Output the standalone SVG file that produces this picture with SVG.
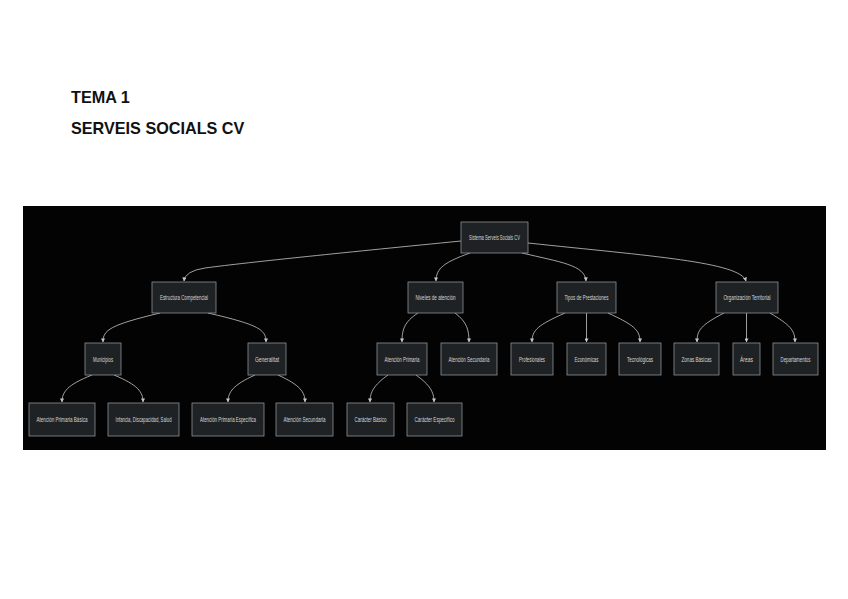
<svg xmlns="http://www.w3.org/2000/svg" width="848" height="599" viewBox="0 0 848 599">
<style>
.title{font-family:"Liberation Sans",Arial,sans-serif;font-weight:bold;font-size:16.2px;fill:#111}
.node rect{fill:#1f2224;stroke:#8d9296;stroke-width:0.8}
.node text{font-family:"Liberation Sans",Arial,sans-serif;font-size:7px;fill:#d6d6d6;text-anchor:middle;dominant-baseline:central}
.edge{fill:none;stroke:#c8c8c8;stroke-width:0.8;marker-end:url(#arr)}
</style>
<defs>
<marker id="arr" viewBox="0 0 10 10" refX="9" refY="5" markerWidth="4" markerHeight="4" orient="auto" markerUnits="userSpaceOnUse">
<path d="M0,0 L10,5 L0,10 z" fill="#c8c8c8"/>
</marker>
</defs>
<rect width="848" height="599" fill="#ffffff"/>
<text class="title" x="71" y="103">TEMA 1</text>
<text class="title" x="71" y="134">SERVEIS SOCIALS CV</text>
<rect x="23" y="206" width="803" height="244" fill="#030303"/>
<g id="connectors">
<path class="edge" d="M461,241 C350,252 250,262 205,268 Q185,271 184,281"/>
<path class="edge" d="M470,253 C445,262 436,268 436,281"/>
<path class="edge" d="M522,253 C560,262 585,265 586,281"/>
<path class="edge" d="M528,243 C650,256 740,262 746,281"/>
<path class="edge" d="M160,313 C110,325 103,330 103,342"/>
<path class="edge" d="M208,313 C260,325 266,330 266,342"/>
<path class="edge" d="M418,313 C404,322 402,330 402,342"/>
<path class="edge" d="M455,313 C467,322 469,330 469,342"/>
<path class="edge" d="M565,313 C538,325 532,330 532,342"/>
<path class="edge" d="M586.5,313 L586.5,342"/>
<path class="edge" d="M608,313 C634,325 640,330 640,342"/>
<path class="edge" d="M724,313 C701,325 697,330 697,342"/>
<path class="edge" d="M746.5,313 L746.5,342"/>
<path class="edge" d="M770,313 C790,325 795,330 795,342"/>
<path class="edge" d="M92,375 C67,385 62,392 62,402"/>
<path class="edge" d="M114,375 C138,385 143,392 143,402"/>
<path class="edge" d="M255,375 C233,385 228,392 228,402"/>
<path class="edge" d="M278,375 C300,385 305,392 305,402"/>
<path class="edge" d="M388,375 C374,385 370,392 370,402"/>
<path class="edge" d="M416,375 C430,385 434,392 434,402"/>
</g>
<g id="root" class="node"><rect x="461" y="222" width="67" height="31"/><text x="494.5" y="237.5" textLength="51" lengthAdjust="spacingAndGlyphs">Sistema Serveis Socials CV</text></g>
<g id="estructura" class="node"><rect x="152" y="282" width="64" height="31"/><text x="184" y="297.5" textLength="48" lengthAdjust="spacingAndGlyphs">Estructura Competencial</text></g>
<g id="niveles" class="node"><rect x="408" y="282" width="55" height="31"/><text x="435.5" y="297.5" textLength="40" lengthAdjust="spacingAndGlyphs">Niveles de atención</text></g>
<g id="tipos" class="node"><rect x="557" y="282" width="59" height="31"/><text x="586.5" y="297.5" textLength="44" lengthAdjust="spacingAndGlyphs">Tipos de Prestaciones</text></g>
<g id="organizacion" class="node"><rect x="716" y="282" width="62" height="31"/><text x="747" y="297.5" textLength="47" lengthAdjust="spacingAndGlyphs">Organización Territorial</text></g>
<g id="municipios" class="node"><rect x="85" y="343" width="36" height="32"/><text x="103" y="359" textLength="20" lengthAdjust="spacingAndGlyphs">Municipios</text></g>
<g id="generalitat" class="node"><rect x="248" y="343" width="38" height="32"/><text x="267" y="359" textLength="24" lengthAdjust="spacingAndGlyphs">Generalitat</text></g>
<g id="at-primaria" class="node"><rect x="377" y="343" width="50" height="32"/><text x="402" y="359" textLength="35" lengthAdjust="spacingAndGlyphs">Atención Primaria</text></g>
<g id="at-secundaria" class="node"><rect x="441" y="343" width="56" height="32"/><text x="469" y="359" textLength="41" lengthAdjust="spacingAndGlyphs">Atención Secundaria</text></g>
<g id="profesionales" class="node"><rect x="511" y="343" width="42" height="32"/><text x="532" y="359" textLength="26" lengthAdjust="spacingAndGlyphs">Profesionales</text></g>
<g id="economicas" class="node"><rect x="567" y="343" width="39" height="32"/><text x="586.5" y="359" textLength="24" lengthAdjust="spacingAndGlyphs">Económicas</text></g>
<g id="tecnologicas" class="node"><rect x="619" y="343" width="42" height="32"/><text x="640" y="359" textLength="26" lengthAdjust="spacingAndGlyphs">Tecnológicas</text></g>
<g id="zonas" class="node"><rect x="674" y="343" width="45" height="32"/><text x="696.5" y="359" textLength="30" lengthAdjust="spacingAndGlyphs">Zonas Básicas</text></g>
<g id="areas" class="node"><rect x="733" y="343" width="27" height="32"/><text x="746.5" y="359" textLength="13" lengthAdjust="spacingAndGlyphs">Áreas</text></g>
<g id="departamentos" class="node"><rect x="773" y="343" width="45" height="32"/><text x="795.5" y="359" textLength="30" lengthAdjust="spacingAndGlyphs">Departamentos</text></g>
<g id="ap-basica" class="node"><rect x="29" y="403" width="66" height="33"/><text x="62" y="419.5" textLength="51" lengthAdjust="spacingAndGlyphs">Atención Primaria Básica</text></g>
<g id="infancia" class="node"><rect x="108" y="403" width="71" height="33"/><text x="143.5" y="419.5" textLength="56" lengthAdjust="spacingAndGlyphs">Infancia, Discapacidad, Salud</text></g>
<g id="ap-especifica" class="node"><rect x="192" y="403" width="72" height="33"/><text x="228" y="419.5" textLength="56" lengthAdjust="spacingAndGlyphs">Atención Primaria Específica</text></g>
<g id="as-leaf" class="node"><rect x="276" y="403" width="57" height="33"/><text x="304.5" y="419.5" textLength="42" lengthAdjust="spacingAndGlyphs">Atención Secundaria</text></g>
<g id="caracter-basico" class="node"><rect x="347" y="403" width="47" height="33"/><text x="370.5" y="419.5" textLength="32" lengthAdjust="spacingAndGlyphs">Carácter Básico</text></g>
<g id="caracter-especifico" class="node"><rect x="407" y="403" width="55" height="33"/><text x="434.5" y="419.5" textLength="40" lengthAdjust="spacingAndGlyphs">Carácter Específico</text></g>
</svg>
